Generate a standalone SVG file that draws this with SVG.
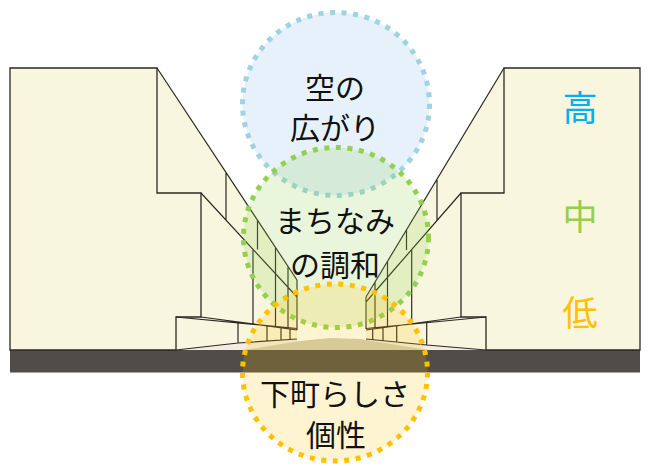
<svg xmlns="http://www.w3.org/2000/svg" width="650" height="466" viewBox="0 0 650 466">
  <defs>
    <style>
      .face { fill: #f8f6de; stroke: #2d2823; stroke-width: 1.3; stroke-linejoin: miter; }
      .fill { fill: #f8f6de; stroke: none; }
      .ln { fill: none; stroke: #2d2823; stroke-width: 1.2; }
      .walk { fill: #f3ece3; stroke: none; }
      .road { fill: #cfccb8; stroke: none; }
      .band { fill: #4f4c49; }
      .ring { stroke-width: 5; stroke-linecap: butt; }
      .sky  { fill: #e6f1fc; stroke: #9fd3df; stroke-dasharray: 5 6.6; }
      .town { fill: #92d050; fill-opacity: 0.2; stroke: #92d050; stroke-dasharray: 5 6.6; }
      .local { fill: #ffc000; fill-opacity: 0.18; stroke: #ffc000; stroke-dasharray: 5 6.6; }
      .lbl { font-family: "Noto Sans CJK JP", "Noto Sans", sans-serif; font-size: 30px; fill: #111; text-anchor: middle; }
      .lvl { font-family: "Noto Sans CJK JP", "Noto Sans", sans-serif; font-size: 35px; text-anchor: middle; }
    </style>
  </defs>

  <!-- street surface -->
  <g id="street">
    <polygon class="walk" points="176,350 238,343 297,339 297,350"/>
    <polygon class="walk" points="486,350 426.7,345 366,339 366,350"/>
    <polygon class="road" points="244,350 300,341 330,338 360,339 428,350"/>
    <rect class="band" x="10" y="350" width="630" height="22.5"/>
  </g>

  <!-- left row of buildings -->
  <g id="buildings-left">
    <polygon class="fill" points="157,68 297,280 297,339 238,343 176,350 157,350"/>
    <polygon class="face" points="10,68 157,68 157,193 201,193 201,317 176,317 176,350 10,350"/>
    <path class="ln" d="M157,68 L297,280 M201,193 L297,297
      M226,172.5 V220 M257.5,220 V249.5 M253,249.5 V324 M275.5,248 V327 M288,266.5 V328.5 M297,280 V330
      M176,317 L297,328.5 M201,317 L297,330 M176,350 L238,343 L297,339
      M238,323 V343 M267,326 V341 M281,328 V340 M290,329 V339.5"/>
  </g>

  <!-- right row of buildings -->
  <g id="buildings-right">
    <polygon class="fill" points="504,68 366,297 366,339 426.7,345 486,350 504,350"/>
    <polygon class="face" points="640,68 504,68 504,193 461,193 461,317 486,317 486,350 640,350"/>
    <path class="ln" d="M504,68 L366,297 M461,193 L366,302
      M437,179 V220.5 M406.5,230 V250 M411.7,250 V323 M387.5,261 V327 M375,282 V328 M366,297 V329
      M486,317 L366,328.5 M461,317 L366,330 M486,350 L426.7,345 L366,339
      M426.7,322.6 V345 M396.7,326 V341.8 M383,328 V340.5 M372.7,329.3 V339.6"/>
  </g>

  <!-- height scale -->
  <g id="levels">
    <text class="lvl" x="580" y="121" fill="#00b0f0">高</text>
    <text class="lvl" x="580" y="230" fill="#92d050">中</text>
    <text class="lvl" x="580" y="326" fill="#ffc000">低</text>
  </g>

  <g id="node-sky">
    <ellipse class="ring sky" cx="336" cy="104" rx="93.5" ry="91.5"/>
    <text class="lbl" x="335" y="99">空の</text>
    <text class="lbl" x="335" y="139">広がり</text>
  </g>

  <g id="node-townscape">
    <ellipse class="ring town" cx="336" cy="237.5" rx="92.5" ry="90"/>
  </g>

  <g id="node-local">
    <ellipse class="ring local" cx="335" cy="372.5" rx="92.5" ry="88.5"/>
  </g>

  <g id="labels">
    <text class="lbl" x="335" y="232">まちなみ</text>
    <text class="lbl" x="335" y="275.5">の調和</text>
    <text class="lbl" x="335" y="405">下町らしさ</text>
    <text class="lbl" x="336" y="446">個性</text>
  </g>
</svg>
